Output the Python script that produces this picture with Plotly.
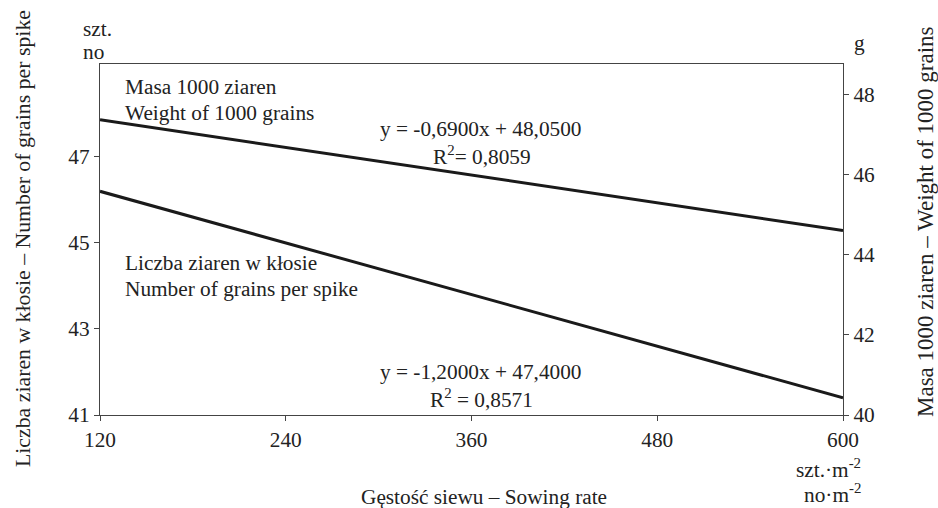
import plotly.graph_objects as go

# Data
sowing_rate = [120, 240, 360, 480, 600]
grains_per_spike = [46.2, 45.0, 43.8, 42.6, 41.4]
weight_1000 = [47.36, 46.67, 45.98, 45.29, 44.60]
left_ticks = [41, 43, 45, 47]
right_ticks = [40, 42, 44, 46, 48]

FONT = "Liberation Serif"
TXT = "#222222"
FS = 21.3
W, H = 938, 508
L, R, T, B = 100, 843, 64, 415


def px(x):
    return (x - L) / (R - L)


def py(y):
    return (B - y) / (B - T)


fig = go.Figure()
fig.add_trace(go.Scatter(x=sowing_rate, y=grains_per_spike, mode="lines",
                         line=dict(color="#1a1a1a", width=3), yaxis="y",
                         showlegend=False, hoverinfo="skip"))
fig.add_trace(go.Scatter(x=sowing_rate, y=weight_1000, mode="lines",
                         line=dict(color="#1a1a1a", width=3), yaxis="y2",
                         showlegend=False, hoverinfo="skip"))

axis_common = dict(showgrid=False, zeroline=False, showline=True,
                   linecolor="#444444", linewidth=1.3, ticks="outside",
                   ticklen=5, tickcolor="#444444",
                   tickfont=dict(family=FONT, size=FS, color=TXT))

fig.update_layout(
    width=W, height=H,
    margin=dict(l=L, r=W - R, t=T, b=H - B, pad=0),
    paper_bgcolor="white", plot_bgcolor="white",
    font=dict(family=FONT, size=FS, color=TXT),
    xaxis=dict(range=[120, 600], tickvals=sowing_rate, mirror=True, **axis_common),
    yaxis=dict(range=[41, 49.16], tickvals=left_ticks, **axis_common),
    yaxis2=dict(range=[40, 48.75], tickvals=right_ticks, overlaying="y",
                side="right", **axis_common),
)

ann = []


def add(text, x, y, xanchor="left", size=FS, textangle=0, align="left"):
    ann.append(dict(text=text, x=px(x), y=py(y), xref="paper", yref="paper",
                    xanchor=xanchor, yanchor="middle", showarrow=False,
                    textangle=textangle, align=align,
                    font=dict(family=FONT, size=size, color=TXT)))


add("szt.", 81, 29)
add("no", 81, 52)
add("g", 852, 43)
add("Liczba ziaren w kłosie – Number of grains per spike", 23, 239,
    xanchor="center", textangle=-90, size=21.8)
add("Masa 1000 ziaren – Weight of 1000 grains", 925, 222,
    xanchor="center", textangle=-90, size=23)
add("Gęstość siewu – Sowing rate", 484, 497, xanchor="center")
add("szt.·m<sup>-2</sup>", 863, 468, xanchor="right")
add("no·m<sup>-2</sup>", 863, 493, xanchor="right")

add("Masa 1000 ziaren", 123, 87)
add("Weight of 1000 grains", 123, 113)
add("y = -0,6900x + 48,0500", 481, 129, xanchor="center")
add("R<sup>2</sup>= 0,8059", 482, 155, xanchor="center")
add("Liczba ziaren w kłosie", 123, 263)
add("Number of grains per spike", 123, 289)
add("y = -1,2000x + 47,4000", 481, 372, xanchor="center")
add("R<sup>2</sup> = 0,8571", 482, 398, xanchor="center")

fig.update_layout(annotations=ann)
fig.write_html("out.html")
